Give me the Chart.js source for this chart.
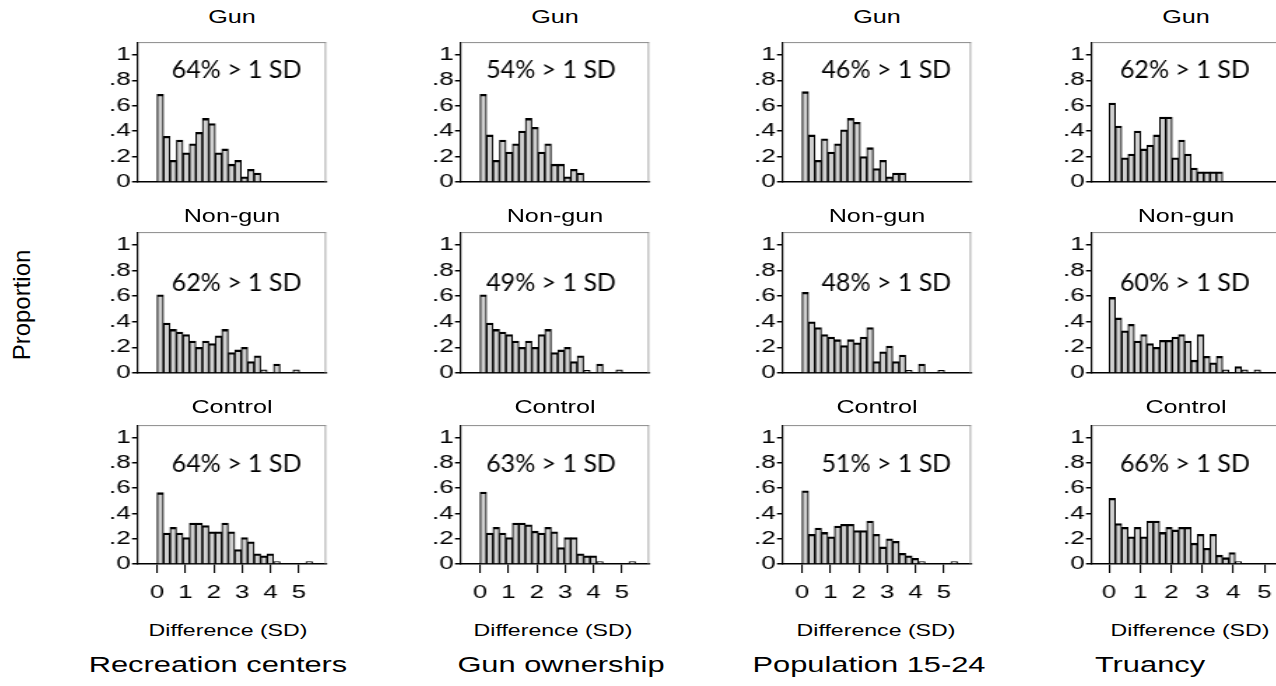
<!DOCTYPE html>
<html>
<head>
<meta charset="utf-8">
<script src="https://cdn.jsdelivr.net/npm/chart.js@4.4.1/dist/chart.umd.min.js"></script>
<style>
  html, body { margin: 0; padding: 0; background: #fff; }
  body { width: 1276px; height: 686px; position: relative; overflow: hidden;
         font-family: "Liberation Sans", Arial, sans-serif; color: #000; }
  canvas { position: absolute; transform-origin: 0 0; }
  .lbl { position: absolute; white-space: nowrap; line-height: 1; }
  .ttl { font-size: 18px; }
  .xt  { font-size: 16.5px; }
  .ct  { font-size: 22px; }
  .yt  { font-size: 24px; }
</style>
</head>
<body>
<script>
// Predictors (columns) and outcome types (rows)
const variables = ['Recreation centers', 'Gun ownership', 'Population 15-24', 'Truancy'];
const outcomes = ['Gun', 'Non-gun', 'Control'];
const yTickLabels = ['0', '.2', '.4', '.6', '.8', '1'];
const xTickLabels = ['0', '1', '2', '3', '4', '5'];
const yAxisTitle = 'Proportion';
const xAxisTitle = 'Difference (SD)';

// Histogram bin width (SD units) per column
const binWidths = [0.228, 0.228, 0.228, 0.203];

// Share of differences larger than 1 SD, [column][row]
const shareAbove1SD = [[64, 62, 64], [54, 49, 63], [46, 48, 51], [62, 60, 66]];

// Bin proportions, starting at 0 SD
const recreationGun = [0.69, 0.36, 0.17, 0.33, 0.23, 0.30, 0.39, 0.50, 0.46, 0.23, 0.26, 0.14, 0.17, 0.04, 0.10, 0.07];
const recreationNonGun = [0.61, 0.39, 0.34, 0.32, 0.30, 0.25, 0.20, 0.25, 0.23, 0.29, 0.34, 0.16, 0.18, 0.20, 0.09, 0.135, 0.025, 0, 0.07, 0, 0, 0.025];
const recreationControl = [0.565, 0.245, 0.29, 0.245, 0.21, 0.325, 0.325, 0.305, 0.255, 0.255, 0.325, 0.255, 0.115, 0.21, 0.175, 0.08, 0.065, 0.08, 0.02, 0, 0, 0, 0, 0.02];

const ownershipGun = [0.69, 0.37, 0.17, 0.33, 0.235, 0.30, 0.40, 0.50, 0.43, 0.235, 0.30, 0.14, 0.14, 0.04, 0.10, 0.07];
const ownershipNonGun = [0.61, 0.39, 0.34, 0.32, 0.30, 0.25, 0.20, 0.25, 0.20, 0.30, 0.34, 0.16, 0.18, 0.20, 0.09, 0.135, 0.02, 0, 0.07, 0, 0, 0.025];
const ownershipControl = [0.57, 0.245, 0.29, 0.245, 0.21, 0.325, 0.325, 0.31, 0.26, 0.245, 0.29, 0.255, 0.13, 0.21, 0.21, 0.08, 0.065, 0.065, 0.02, 0, 0, 0, 0, 0.02];

const populationGun = [0.71, 0.37, 0.17, 0.34, 0.235, 0.30, 0.41, 0.50, 0.47, 0.20, 0.27, 0.105, 0.17, 0.04, 0.07, 0.07];
const populationNonGun = [0.63, 0.40, 0.355, 0.30, 0.28, 0.26, 0.215, 0.26, 0.235, 0.28, 0.355, 0.09, 0.165, 0.21, 0.09, 0.14, 0.02, 0, 0.07, 0, 0, 0.02];
const populationControl = [0.58, 0.235, 0.285, 0.25, 0.215, 0.30, 0.315, 0.315, 0.265, 0.265, 0.34, 0.235, 0.135, 0.20, 0.18, 0.085, 0.065, 0.045, 0.02, 0, 0, 0, 0, 0.02];

const truancyGun = [0.62, 0.44, 0.19, 0.22, 0.40, 0.26, 0.29, 0.37, 0.51, 0.51, 0.19, 0.33, 0.22, 0.11, 0.08, 0.08, 0.08, 0.08];
const truancyNonGun = [0.59, 0.43, 0.33, 0.38, 0.25, 0.30, 0.23, 0.20, 0.255, 0.255, 0.28, 0.30, 0.25, 0.10, 0.30, 0.13, 0.08, 0.13, 0.025, 0, 0.05, 0.025, 0, 0.025];
const truancyControl = [0.52, 0.32, 0.29, 0.215, 0.29, 0.215, 0.34, 0.34, 0.25, 0.29, 0.27, 0.29, 0.29, 0.165, 0.235, 0.125, 0.235, 0.07, 0.05, 0.09, 0.02];

const panels = [
  [recreationGun, recreationNonGun, recreationControl],
  [ownershipGun, ownershipNonGun, ownershipControl],
  [populationGun, populationNonGun, populationControl],
  [truancyGun, truancyNonGun, truancyControl]
];

// ---- layout (screen pixels) ----
const STRETCH = 1.4;              // horizontal widening of the axis lettering
const colBoxLeft = [138, 461, 783, 1092];
const boxW = 188;
const rowBoxTop = [40, 230, 423];
const rowBoxH = [142, 143, 141];
const titleY = [17, 216, 407];
const xRanges = [[-0.67, 5.95], [-0.67, 5.95], [-0.67, 5.95], [-0.55, 5.5]];
const noteX = [2.8, 2.5, 2.97, 2.44];
const noteY = [0.88, 0.70, 0.79];
const Y_AXIS_SCREEN = 63, PAD_TOP = 10, PAD_RIGHT_SCREEN = 7;

Chart.defaults.font.family = '"Liberation Sans", Arial, sans-serif';
Chart.defaults.color = '#000';

// Light grey frame along the top and right of each plot region
const framePlugin = {
  id: 'frame',
  afterDraw(chart) {
    const { ctx, chartArea: a } = chart;
    ctx.save();
    ctx.strokeStyle = '#8a8a8a';
    ctx.lineWidth = 1;
    ctx.beginPath();
    ctx.moveTo(a.left, a.top + 0.5);
    ctx.lineTo(a.right, a.top + 0.5);
    ctx.stroke();
    ctx.lineWidth = 0.75;
    ctx.beginPath();
    ctx.moveTo(a.right - 0.4, a.top);
    ctx.lineTo(a.right - 0.4, a.bottom);
    ctx.stroke();
    ctx.restore();
  }
};

// "NN% > 1 SD" note placed in data coordinates, drawn without the widening
const notePlugin = {
  id: 'note',
  afterDatasetsDraw(chart, args, opts) {
    const { ctx, scales } = chart;
    ctx.save();
    ctx.translate(scales.x.getPixelForValue(opts.x), scales.y.getPixelForValue(opts.y));
    ctx.scale(1 / STRETCH, 1);
    ctx.font = '25px Lato, "Open Sans", sans-serif';
    ctx.fillStyle = '#000';
    ctx.textAlign = 'center';
    ctx.textBaseline = 'middle';
    ctx.fillText(opts.text, 0, 0);
    ctx.restore();
  }
};

function addLabel(text, cls, x, y, transform) {
  const d = document.createElement('div');
  d.className = 'lbl ' + cls;
  d.textContent = text;
  d.style.left = x + 'px';
  d.style.top = y + 'px';
  d.style.transform = transform;
  document.body.appendChild(d);
}

const yAxisW = Y_AXIS_SCREEN / STRETCH;
const boxWi = boxW / STRETCH;
const canvasW = Math.ceil(yAxisW + boxWi + PAD_RIGHT_SCREEN / STRETCH);
const padRight = canvasW - yAxisW - boxWi;

panels.forEach((col, c) => {
  col.forEach((values, r) => {
    const bottomRow = r === outcomes.length - 1;
    const xAxisH = bottomRow ? 50 : 14;
    const cv = document.createElement('canvas');
    cv.width = canvasW;
    cv.height = PAD_TOP + rowBoxH[r] + xAxisH;
    cv.style.left = (colBoxLeft[c] - Y_AXIS_SCREEN) + 'px';
    cv.style.top = (rowBoxTop[r] - PAD_TOP) + 'px';
    cv.style.transform = 'scaleX(' + STRETCH + ')';
    document.body.appendChild(cv);

    const w = binWidths[c];
    const points = values.map((v, i) => ({ x: (i + 0.5) * w, y: v }));

    new Chart(cv, {
      type: 'bar',
      data: {
        datasets: [{
          data: points,
          backgroundColor: '#d0d0d0',
          borderColor: '#000',
          borderWidth: { top: 2.3, left: 1.1, right: 1.1, bottom: 0 },
          borderSkipped: 'bottom',
          barPercentage: 1,
          categoryPercentage: 1
        }]
      },
      options: {
        responsive: false,
        animation: false,
        devicePixelRatio: 1,
        layout: { padding: { top: PAD_TOP, right: padRight, left: 0, bottom: 0 } },
        plugins: {
          legend: { display: false },
          tooltip: { enabled: false },
          title: { display: false },
          note: { text: shareAbove1SD[c][r] + '% > 1 SD', x: noteX[c], y: noteY[r] }
        },
        scales: {
          x: {
            type: 'linear',
            offset: false,
            min: xRanges[c][0],
            max: xRanges[c][1],
            afterBuildTicks: s => { s.ticks = xTickLabels.map(t => ({ value: Number(t) })); },
            afterFit: s => { s.height = xAxisH; },
            ticks: {
              display: bottomRow,
              autoSkip: false,
              maxRotation: 0,
              padding: 9,
              font: { size: 18.5 },
              callback: (v, i) => xTickLabels[i]
            },
            grid: {
              offset: false,
              drawOnChartArea: false,
              drawTicks: bottomRow,
              tickLength: 9,
              color: '#000',
              lineWidth: 1.1
            },
            border: { display: true, color: '#000', width: 1.6 }
          },
          y: {
            min: 0,
            max: 1.1,
            afterBuildTicks: s => { s.ticks = yTickLabels.map(t => ({ value: parseFloat(t) })); },
            afterFit: s => { s.width = yAxisW; },
            ticks: {
              autoSkip: false,
              padding: 1,
              font: { size: 18.5 },
              callback: (v, i) => yTickLabels[i]
            },
            grid: {
              drawOnChartArea: false,
              drawTicks: true,
              tickLength: 6 / STRETCH,
              color: '#000',
              lineWidth: 1.5
            },
            border: { display: true, color: '#000', width: 1.2 }
          }
        }
      },
      plugins: [framePlugin, notePlugin]
    });

    const cx = colBoxLeft[c] + boxW / 2;
    addLabel(outcomes[r], 'ttl', cx, titleY[r], 'translate(-50%, -50%) scaleX(' + STRETCH + ')');
  });
});

// Shared axis titles and column names
const xTitleCenter = [228, 553, 876, 1190];
const colTitleCenter = [218, 561, 869, 1150];
variables.forEach((name, c) => {
  addLabel(xAxisTitle, 'xt', xTitleCenter[c], 630, 'translate(-50%, -50%) scaleX(' + STRETCH + ')');
  addLabel(name, 'ct', colTitleCenter[c], 665, 'translate(-50%, -50%) scaleX(' + STRETCH + ')');
});
addLabel(yAxisTitle, 'yt', 22, 305, 'translate(-50%, -50%) rotate(-90deg)');
</script>
</body>
</html>
